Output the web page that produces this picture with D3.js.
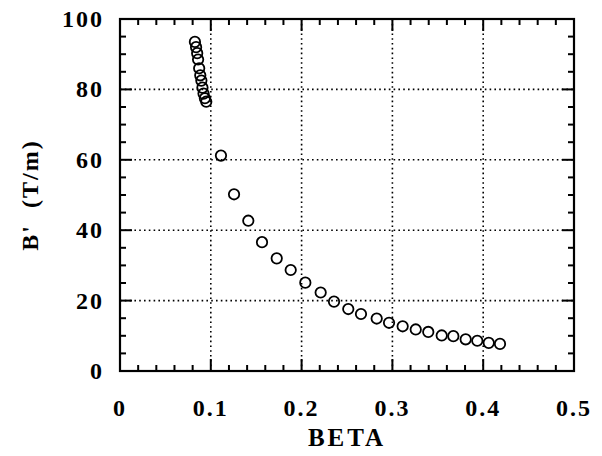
<!DOCTYPE html>
<html><head><meta charset="utf-8">
<script src="https://cdn.jsdelivr.net/npm/d3@7"></script>
<style>
body{margin:0;background:#fff;}
text{font-family:"Liberation Serif","Times New Roman",serif;font-weight:bold;fill:#000;}
</style></head>
<body><svg id="c" width="602" height="456"></svg>
<script>
const betaValues = [0.0825,0.0838,0.0850,0.0860,0.0872,0.0884,0.0896,0.0908,0.0920,0.0935,0.0950,
  0.1112,0.1256,0.1413,0.1564,0.1726,0.1880,0.2041,0.2210,0.2357,0.2514,0.2654,0.2827,0.2963,0.3113,0.3257,0.3395,0.3543,0.3671,0.3807,0.3935,0.4061,0.4185];
const gradientValues = [93.5,92.0,90.3,88.5,86.0,84.0,82.5,80.5,78.8,77.5,76.5,
  61.2,50.2,42.7,36.6,32.0,28.7,25.1,22.3,19.7,17.6,16.2,14.9,13.7,12.7,11.8,11.1,10.1,9.9,9.0,8.6,8.0,7.7];
const xTicks = [0,0.1,0.2,0.3,0.4,0.5];
const xTickLabels = ["0","0.1","0.2","0.3","0.4","0.5"];
const yTicks = [0,20,40,60,80,100];
const yTickLabels = ["0","20","40","60","80","100"];
const xLabel = "BETA";
const yLabel = "B'  (T/m)";

const svg = d3.select("#c");
const L=120, R=574, T=19, B=371;
const x = d3.scaleLinear().domain([0,0.5]).range([L,R]);
const y = d3.scaleLinear().domain([0,100]).range([B,T]);

// grid
const g = svg.append("g");
g.selectAll(".gx").data(xTicks.filter(d=>d>0&&d<0.5)).join("line")
  .attr("x1",d=>x(d)).attr("x2",d=>x(d)).attr("y1",T).attr("y2",B)
  .attr("stroke","#000").attr("stroke-width",1.6).attr("stroke-dasharray","1.6,3.2");
g.selectAll(".gy").data(yTicks.filter(d=>d>0&&d<100)).join("line")
  .attr("y1",d=>y(d)).attr("y2",d=>y(d)).attr("x1",L).attr("x2",R)
  .attr("stroke","#000").attr("stroke-width",1.6).attr("stroke-dasharray","1.6,3.2");

// ticks inside on all sides
const xMinor = d3.range(0,0.5001,0.02);
const yMinor = d3.range(0,100.001,5);
function isMajorX(d){return Math.abs(d*10-Math.round(d*10))<1e-6;}
function isMajorY(d){return d%20===0;}
const tk = svg.append("g").attr("stroke","#000").attr("stroke-width",2);
xMinor.forEach(d=>{
  const len = isMajorX(d)?12:6;
  tk.append("line").attr("x1",x(d)).attr("x2",x(d)).attr("y1",B).attr("y2",B-len);
  tk.append("line").attr("x1",x(d)).attr("x2",x(d)).attr("y1",T).attr("y2",T+len);
});
yMinor.forEach(d=>{
  const len = isMajorY(d)?12:6;
  tk.append("line").attr("y1",y(d)).attr("y2",y(d)).attr("x1",L).attr("x2",L+len);
  tk.append("line").attr("y1",y(d)).attr("y2",y(d)).attr("x1",R).attr("x2",R-len);
});
svg.append("rect").attr("x",L).attr("y",T).attr("width",R-L).attr("height",B-T)
  .attr("fill","none").attr("stroke","#000").attr("stroke-width",2.2);

// tick labels
svg.selectAll(".xl").data(xTicks).join("text")
  .attr("x",d=>x(d)).attr("y",416).attr("text-anchor","middle")
  .attr("font-size",24).attr("letter-spacing",2)
  .text((d,i)=>xTickLabels[i]);
svg.selectAll(".yl").data(yTicks).join("text")
  .attr("x",104).attr("y",d=>y(d)+8).attr("text-anchor","end")
  .attr("font-size",24).attr("letter-spacing",2)
  .text((d,i)=>yTickLabels[i]);

svg.append("text").attr("x",(L+R)/2).attr("y",446).attr("text-anchor","middle")
  .attr("font-size",25).attr("letter-spacing",3).text(xLabel);
svg.append("text").attr("transform",`translate(38,${(T+B)/2}) rotate(-90)`)
  .attr("text-anchor","middle").attr("font-size",24).attr("letter-spacing",2)
  .attr("xml:space","preserve").style("white-space","pre").text(yLabel);

// points
svg.append("g").selectAll("circle").data(betaValues).join("circle")
  .attr("cx",d=>x(d)).attr("cy",(d,i)=>y(gradientValues[i])).attr("r",5.2)
  .attr("fill","none").attr("stroke","#000").attr("stroke-width",1.8);
</script></body></html>
